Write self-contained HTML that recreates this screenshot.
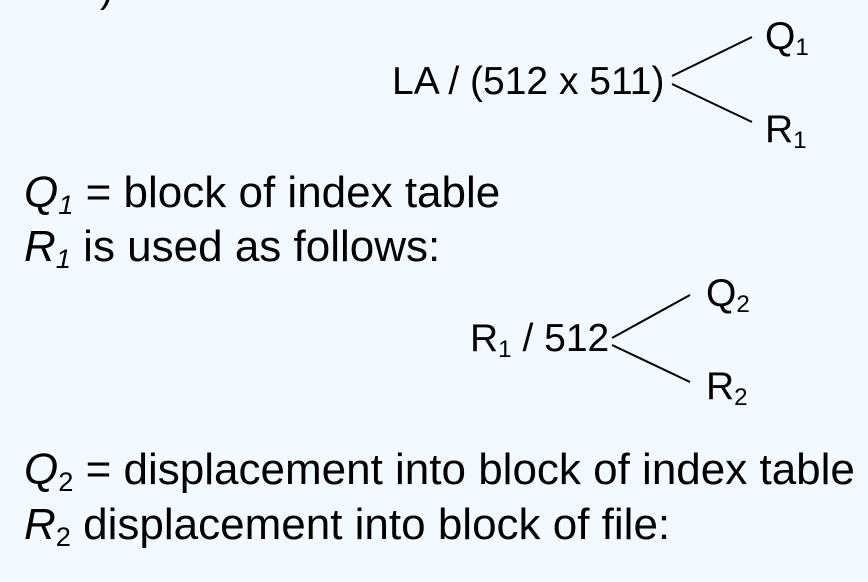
<!DOCTYPE html>
<html><head><style>
html,body{margin:0;padding:0;background:#f2faff;width:868px;height:582px;overflow:hidden;}
body{position:relative;font-family:"Liberation Sans",sans-serif;color:#000;}
.t{position:absolute;white-space:nowrap;line-height:1;}
.b{font-size:44px;}
.d{font-size:39px;}
sub{font-size:0.62em;vertical-align:-0.25em;line-height:0;}
i{font-style:italic;}
</style></head><body>
<div class="t d" style="left:100px;top:-30px;">)</div>
<div class="t d" style="left:392px;top:62px;">LA / (512 x 511)</div>
<div class="t d" style="left:765px;top:17px;">Q<sub>1</sub></div>
<div class="t d" style="left:765px;top:110px;">R<sub>1</sub></div>
<div class="t b" style="left:24px;top:171px;"><i>Q<sub>1</sub></i> = block of index table</div>
<div class="t b" style="left:24px;top:225px;"><i>R<sub>1</sub></i> is used as follows:</div>
<div class="t d" style="left:470px;top:319px;">R<sub>1</sub> / 512</div>
<div class="t d" style="left:706px;top:274px;">Q<sub>2</sub></div>
<div class="t d" style="left:706px;top:367px;">R<sub>2</sub></div>
<div class="t b" style="left:24px;top:448px;"><i>Q</i><sub>2</sub> = displacement into block of index table</div>
<div class="t b" style="left:24px;top:503px;"><i>R</i><sub>2</sub> displacement into block of file:</div>
<svg width="868" height="582" style="position:absolute;left:0;top:0" stroke="#000" stroke-width="2">
<line x1="672" y1="76" x2="752" y2="37"/>
<line x1="672" y1="84" x2="752" y2="122"/>
<line x1="612" y1="338" x2="690" y2="295"/>
<line x1="612" y1="345" x2="690" y2="382"/>
</svg>
</body></html>
